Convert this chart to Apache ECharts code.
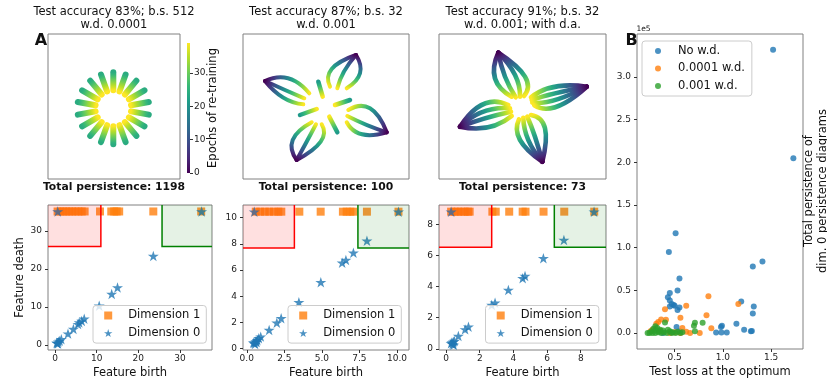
<!DOCTYPE html>
<html><head><meta charset="utf-8">
<script src="https://cdn.jsdelivr.net/npm/echarts@6/dist/echarts.min.js"></script>
<style>html,body{margin:0;padding:0;background:#fff}#c{width:827px;height:383px}</style>
</head><body><div id="c"></div>
<script>
// ---------------- DATA ----------------
const EMAX = 39; // epochs of re-training (colorbar max)
const cbTicks = [0, 10, 20, 30];

// Panel A1 top: radial rays [x_inner, y_inner, x_outer, y_outer, epoch_inner, epoch_outer]
const a1Rays = [
  [-0.7,16.2,-0.7,34.2,39,24],[5.5,15.1,11.6,32.0,39,24],[10.9,12.0,22.4,25.8,39,24],
  [14.9,7.2,30.5,16.2,39,24],[17.0,1.3,34.8,4.5,39,24],[17.0,-4.9,34.8,-8.1,39,24],
  [14.9,-10.8,30.5,-19.8,39,24],[10.9,-15.6,22.4,-29.4,39,24],[5.5,-18.7,11.6,-35.6,39,24],
  [-0.7,-19.8,-0.7,-37.8,39,24],[-6.9,-18.7,-13.0,-35.6,39,24],[-12.3,-15.6,-23.8,-29.4,39,24],
  [-16.3,-10.8,-31.9,-19.8,39,24],[-18.4,-4.9,-36.2,-8.1,39,24],[-18.4,1.3,-36.2,4.5,39,24],
  [-16.3,7.2,-31.9,16.2,39,24],[-12.3,12.0,-23.8,25.8,39,24],[-6.9,15.1,-13.0,32.0,39,24]
];
// Panel A2 top: curves [x_in, y_in, x_mid, y_mid, x_tip, y_tip, epoch_in, epoch_tip]
const a2Arcs = [
  [4,19.8,5.7,37.5,30,51.5,39,0],[11.3,18.2,18,35,30,51.5,39,0],[20.7,18.2,34,33.2,30,51.5,39,0],
  [-16.7,13.2,-37.7,28.2,-61,25.5,39,0],[-21.7,8.2,-41,16.5,-61,25.5,39,0],[-22.7,2.2,-42.7,8.8,-61,25.5,39,0],
  [-14.3,-15.8,-33.3,-33.5,-29.3,-53.5,39,0],[-10,-17.8,-19.3,-35.2,-29.3,-53.5,39,0],[-4.3,-17.8,-5.3,-35.2,-29.3,-53.5,39,0],
  [22.3,-3.5,44,-1.8,60.7,-25.8,39,0],[21.3,-9.5,40.7,-18.5,60.7,-25.8,39,0],[20.7,-15.8,35.7,-27.8,60.7,-25.8,39,0]
];
const a2Dashes = [
  [-3.3,9.8,-7.7,24.8,39,21],[9,1.5,24,6.5,39,21],[-9.3,-2.5,-26,-8.5,39,21],[3.3,-10.2,11.3,-25.8,39,21]
];
// Panel A3 top
const a3Arcs = [
  [-10.8,9.8,-27.5,28.2,-24.2,53.8,39,0],[-6.8,9.2,-17.5,29.8,-24.2,53.8,39,0],
  [-2.5,9.8,-7.5,31.5,-24.2,53.8,39,0],[1.5,10.5,2.5,29.8,-24.2,53.8,39,0],
  [8.5,9.2,32.5,19.8,64.2,19.8,39,0],[9.2,6.5,32.5,13.2,64.2,19.8,39,0],
  [9.8,3.8,32.5,6.5,64.2,19.8,39,0],[11.8,1.2,34.2,-0.2,64.2,19.8,39,0],
  [-14.2,1.5,-39.2,2.5,-62.5,-20.2,39,0],[-12.5,-1.8,-39.2,-5.2,-62.5,-20.2,39,0],
  [-11.5,-5.2,-37.5,-11.8,-62.5,-20.2,39,0],[-10.8,-9.5,-34.2,-20.8,-62.5,-20.2,39,0],
  [-3.5,-12.8,-2.5,-33.5,19.8,-55.2,39,0],[0.8,-11.2,5.8,-33.5,19.8,-55.2,39,0],
  [4.8,-10.2,12.5,-30.2,19.8,-55.2,39,0],[8.5,-8.5,22.5,-21.8,19.8,-55.2,39,0]
];

// Persistence diagrams [birth, death]
const a1Dim1 = [[0.6,35.1],[1.3,35.1],[2.0,35.1],[2.7,35.1],[3.4,35.1],[4.1,35.1],[4.9,35.1],[5.6,35.1],[6.4,35.1],[7.1,35.1],[10.8,35.1],[13.5,35.1],[14.2,35.1],[14.8,35.1],[15.4,35.1],[23.6,35.1],[35.1,35.1]];
const a1Dim0 = [[0.64,35.1],[35.2,35.1],[23.6,23.4],[15.0,15.1],[13.6,13.4],[10.6,10.3],[7.0,6.9],[6.4,6.3],[5.8,5.9],[5.5,5.5],[4.4,4.2],[3.1,3.0],[1.5,1.5],[1.1,1.1],[0.8,0.9],[0.5,0.5],[0.4,0.6],[0.7,0.4]];
const a2Dim1 = [[0.6,10.46],[0.9,10.46],[1.2,10.46],[1.5,10.46],[1.8,10.46],[2.1,10.46],[2.3,10.46],[3.5,10.46],[4.92,10.46],[6.4,10.46],[6.65,10.46],[6.9,10.46],[7.1,10.46],[8.0,10.46],[10.1,10.46]];
const a2Dim0 = [[0.5,10.46],[10.1,10.46],[8.0,8.24],[7.1,7.33],[6.6,6.77],[6.35,6.56],[4.93,5.07],[3.47,3.54],[2.29,2.32],[2.0,1.98],[1.49,1.43],[0.93,0.92],[0.8,0.8],[0.7,0.65],[0.6,0.55],[0.5,0.45],[0.44,0.46],[0.55,0.35],[0.65,0.5]];
const a3Dim1 = [[0.3,8.84],[0.5,8.84],[0.7,8.84],[0.9,8.84],[1.1,8.84],[1.3,8.84],[1.4,8.84],[2.75,8.84],[2.95,8.84],[3.75,8.84],[4.55,8.84],[4.72,8.84],[5.79,8.84],[7.02,8.84],[8.8,8.84]];
const a3Dim0 = [[0.3,8.84],[8.79,8.84],[7.0,7.01],[5.78,5.83],[4.69,4.69],[4.55,4.54],[3.7,3.79],[2.91,2.97],[2.71,2.82],[1.33,1.42],[1.13,1.25],[0.73,0.82],[0.43,0.45],[0.3,0.35],[0.4,0.3],[0.5,0.5],[0.35,0.4],[0.45,0.25]];

// Threshold boxes: [red x max, green x min, y min]
const a1Box = [11.0, 25.7, 25.9];
const a2Box = [3.17, 7.4, 7.68];
const a3Box = [2.71, 6.43, 6.54];

// Panel B: [test loss, total persistence (x1e5)]
const bNoWd = [[1.52,3.32],[1.73,2.05],[0.51,1.17],[0.44,0.95],[1.41,0.84],[1.31,0.78],[0.55,0.64],[0.53,0.50],[0.45,0.47],[0.43,0.42],[0.45,0.38],[0.47,0.34],[0.50,0.32],[0.45,0.31],[0.55,0.30],[0.53,0.27],[0.49,0.33],[1.19,0.37],[1.32,0.31],[1.31,0.23],[1.14,0.11],[0.99,0.085],[0.98,0.07],[1.22,0.04],[1.30,0.025],[1.29,0.02],[0.93,0.005],[0.985,0.005],[1.04,0.005],[0.52,0.07],[0.55,0.02],[0.38,0.0],[0.46,0.01]];
const bWd4 = [[0.85,0.43],[1.16,0.34],[0.62,0.32],[0.40,0.28],[0.83,0.21],[0.56,0.18],[0.36,0.16],[0.41,0.155],[0.33,0.13],[0.31,0.11],[0.58,0.06],[0.88,0.055],[0.62,0.015],[0.76,0.0],[0.25,0.02],[0.27,0.04],[0.5,0.01],[0.45,0.0],[0.35,0.03],[0.66,0.0],[0.56,0.0]];
const bWd3 = [[0.40,0.125],[0.71,0.12],[0.79,0.12],[0.70,0.085],[0.71,0.02],[0.30,0.08],[0.32,0.06],[0.28,0.05],[0.35,0.04],[0.26,0.02],[0.22,0.0],[0.24,0.0],[0.27,0.0],[0.30,0.0],[0.33,0.01],[0.36,0.0],[0.39,0.005],[0.42,0.0],[0.45,0.02],[0.48,0.01],[0.51,0.0],[0.53,0.015],[0.56,0.0],[0.58,0.01],[0.30,0.03],[0.34,0.02],[0.38,0.03],[0.43,0.04],[0.47,0.0]];

// Tick values
const a1Ticks = [0,10,20,30];
const a2xTicks = [0,2.5,5,7.5,10];
const a2yTicks = [0,2,4,6,8,10];
const a3Ticks = [0,2,4,6,8];
const bxTicks = [0.5,1.0,1.5];
const byTicks = [0,0.5,1.0,1.5,2.0,2.5,3.0];

// ---------------- RENDER ----------------
const FONT = 'DejaVu Sans';
const STAR = 'path://M50,0L61.2,34.6L97.6,34.6L68.1,55.9L79.4,90.5L50,69.1L20.6,90.5L31.9,55.9L2.4,34.6L38.8,34.6Z';
const SQUARE = 'path://M0,0L10,0L10,10L0,10Z';
const VIR = ['#440154','#482878','#3e4989','#31688e','#26828e','#1f9e89','#35b779','#6ece58','#b5de2b','#fde725'];
function hex(h){return [parseInt(h.slice(1,3),16),parseInt(h.slice(3,5),16),parseInt(h.slice(5,7),16)];}
function viridis(t){
  t=Math.max(0,Math.min(1,t)); const s=t*(VIR.length-1); const i=Math.min(Math.floor(s),VIR.length-2); const f=s-i;
  const a=hex(VIR[i]), b=hex(VIR[i+1]);
  return 'rgb('+a.map((v,k)=>Math.round(v+(b[k]-v)*f)).join(',')+')';
}
function grad(p0,p1,e0,e1){
  const stops=[]; for(let i=0;i<=10;i++){const t=i/10; stops.push({offset:t,color:viridis((e0+(e1-e0)*t)/EMAX)});}
  return new echarts.graphic.LinearGradient(p0[0],p0[1],p1[0],p1[1],stops,true);
}
function rayRender(w){return function(params,api){
  const p0=api.coord([api.value(0),api.value(1)]), p1=api.coord([api.value(2),api.value(3)]);
  return {type:'line',shape:{x1:p0[0],y1:p0[1],x2:p1[0],y2:p1[1]},style:{fill:'none',stroke:grad(p0,p1,api.value(4),api.value(5)),lineWidth:w,lineCap:'round'}};
};}
function arcRender(w){return function(params,api){
  const p0=api.coord([api.value(0),api.value(1)]), pm=api.coord([api.value(2),api.value(3)]), p1=api.coord([api.value(4),api.value(5)]);
  const cx=2*pm[0]-(p0[0]+p1[0])/2, cy=2*pm[1]-(p0[1]+p1[1])/2;
  return {type:'bezierCurve',shape:{x1:p0[0],y1:p0[1],cpx1:cx,cpy1:cy,x2:p1[0],y2:p1[1]},style:{fill:'none',stroke:grad(p0,p1,api.value(6),api.value(7)),lineWidth:w,lineCap:'round'}};
};}
function rectRender(params,api){
  const kind=api.value(4);
  const p0=api.coord([api.value(0),api.value(1)]), p1=api.coord([api.value(2),api.value(3)]);
  const x=Math.min(p0[0],p1[0]), y=Math.min(p0[1],p1[1]), w=Math.abs(p1[0]-p0[0]), h=Math.abs(p1[1]-p0[1]);
  const pts = kind===0 ? [[p1[0],p1[1]],[p1[0],p0[1]],[p0[0],p0[1]]] : [[p0[0],p1[1]],[p0[0],p0[1]],[p1[0],p0[1]]];
  return {type:'group',children:[
    {type:'rect',shape:{x,y,width:w,height:h},style:{fill:kind===0?'rgba(255,0,0,0.12)':'rgba(0,128,0,0.1)',stroke:'none'}},
    {type:'polyline',shape:{points:pts},style:{fill:'none',stroke:kind===0?'#ff0000':'#008000',lineWidth:1.5}}
  ]};
}

const gridBase = {show:true, borderColor:'#808080', borderWidth:1, backgroundColor:'transparent', containLabel:false, outerBoundsMode:'none'};
const grids = [
  {left:48, top:34, width:132, height:145},   // 0 A1 top
  {left:243, top:34, width:166, height:145},  // 1 A2 top
  {left:439, top:34, width:167, height:145},  // 2 A3 top
  {left:187, top:43, width:3, height:130, show:false, outerBoundsMode:'none'}, // 3 colorbar
  {left:48, top:205, width:164, height:145},  // 4 A1 bottom
  {left:243, top:205, width:166, height:145}, // 5 A2 bottom
  {left:439, top:205, width:167, height:145}, // 6 A3 bottom
  {left:637, top:34, width:166, height:315}   // 7 B
].map((g,i)=> i===3 ? g : Object.assign({}, gridBase, g));

const intF = v=>String(v), f1 = v=>v.toFixed(1);
function vAxis(gi,min,max,ticks,fmt,margin,extra){
  return Object.assign({
    type:'value', gridIndex:gi, min, max,
    axisLine:{show:false, onZero:false}, splitLine:{show:false},
    axisTick:{show:true, customValues:ticks, length:3, lineStyle:{color:'#333', width:1}},
    axisLabel:{show:true, customValues:ticks, formatter:fmt, fontSize:9, color:'#222', fontFamily:FONT, margin},
    nameTextStyle:{fontSize:11.5, color:'#111', fontFamily:FONT},
    nameMoveOverlap:false
  }, extra||{});
}
function hidden(gi,min,max){return {type:'value',gridIndex:gi,min,max,show:false,axisLine:{onZero:false}};}

const xAxes = [
  hidden(0,-66,66), hidden(1,-83,83), hidden(2,-83.5,83.5),
  {type:'category', gridIndex:3, data:['c'], show:false},
  vAxis(4,-1.7,37.7,a1Ticks,intF,4,{name:'Feature birth',nameLocation:'middle',nameGap:17}),
  vAxis(5,-0.25,10.8,a2xTicks,f1,4,{name:'Feature birth',nameLocation:'middle',nameGap:17}),
  vAxis(6,-0.42,9.5,a3Ticks,intF,4,{name:'Feature birth',nameLocation:'middle',nameGap:17}),
  vAxis(7,0.11,1.83,bxTicks,f1,4,{name:'Test loss at the optimum',nameLocation:'middle',nameGap:17})
];
const yAxes = [
  hidden(0,-72.5,72.5), hidden(1,-72.5,72.5), hidden(2,-72.5,72.5),
  vAxis(3,0,EMAX,cbTicks,intF,4,{position:'right',name:'Epochs of re-training',nameLocation:'middle',nameRotate:90,nameGap:17}),
  vAxis(4,-1.3,36.8,a1Ticks,intF,6,{name:'Feature death',nameLocation:'middle',nameRotate:90,nameGap:22}),
  vAxis(5,-0.1,10.97,a2yTicks,intF,6),
  vAxis(6,-0.08,9.27,a3Ticks,intF,6),
  vAxis(7,-0.187,3.505,byTicks,f1,6)
];

function boxes(b, xmin, xmax, ymax){return [[xmin,b[2],b[0],ymax,0],[b[1],b[2],xmax,ymax,1]];}
function pdSeries(gi, d1, d0, box, xmin, xmax, ymax){
  return [
    {type:'scatter',name:'Dimension 1',xAxisIndex:gi,yAxisIndex:gi,data:d1,symbol:SQUARE,symbolSize:8,symbolKeepAspect:true,itemStyle:{color:'#ff7f0e'},z:2},
    {type:'scatter',name:'Dimension 0',xAxisIndex:gi,yAxisIndex:gi,data:d0,symbol:STAR,symbolSize:11,symbolKeepAspect:true,itemStyle:{color:'#1f77b4'},z:2},
    {type:'custom',xAxisIndex:gi,yAxisIndex:gi,data:boxes(box,xmin,xmax,ymax),renderItem:rectRender,z:3,silent:true}
  ];
}

const series = [
  {type:'custom',xAxisIndex:0,yAxisIndex:0,data:a1Rays,renderItem:rayRender(6),silent:true},
  {type:'custom',xAxisIndex:1,yAxisIndex:1,data:a2Arcs,renderItem:arcRender(4),silent:true},
  {type:'custom',xAxisIndex:1,yAxisIndex:1,data:a2Dashes,renderItem:rayRender(4.5),silent:true},
  {type:'custom',xAxisIndex:2,yAxisIndex:2,data:a3Arcs,renderItem:arcRender(4.6),silent:true},
  {type:'bar',xAxisIndex:3,yAxisIndex:3,data:[EMAX],barWidth:'100%',silent:true,
    itemStyle:{color:new echarts.graphic.LinearGradient(0,1,0,0,VIR.map((c,i)=>({offset:i/(VIR.length-1),color:c})))}},
  ...pdSeries(4,a1Dim1,a1Dim0,a1Box,-1.7,37.7,36.8),
  ...pdSeries(5,a2Dim1,a2Dim0,a2Box,-0.25,10.8,10.97),
  ...pdSeries(6,a3Dim1,a3Dim0,a3Box,-0.42,9.5,9.27),
  {type:'scatter',name:'No w.d.',xAxisIndex:7,yAxisIndex:7,data:bNoWd,symbol:'circle',symbolSize:6,itemStyle:{color:'#1f77b4'}},
  {type:'scatter',name:'0.0001 w.d.',xAxisIndex:7,yAxisIndex:7,data:bWd4,symbol:'circle',symbolSize:6,itemStyle:{color:'#ff7f0e'}},
  {type:'scatter',name:'0.001 w.d.',xAxisIndex:7,yAxisIndex:7,data:bWd3,symbol:'circle',symbolSize:6,itemStyle:{color:'#2ca02c'}}
];

const legBase = {orient:'vertical', selectedMode:false, backgroundColor:'rgba(255,255,255,0.8)', borderColor:'#cccccc', borderWidth:1, borderRadius:3,
  itemWidth:26, itemGap:3.6, textStyle:{fontFamily:FONT, fontSize:11.5, color:'#111', lineHeight:14, padding:[0,0,0,2]}, z:10};
const dimNames = ['Dimension 1','Dimension 0'];
const legends = [
  Object.assign({}, legBase, {left:93, top:305.5, padding:[3,6,3,11], itemHeight:8, data:dimNames}),
  Object.assign({}, legBase, {left:288, top:305.5, padding:[3,6,3,11], itemHeight:8, data:dimNames}),
  Object.assign({}, legBase, {left:485.5, top:305.5, padding:[3,6,3,11], itemHeight:8, data:dimNames}),
  Object.assign({}, legBase, {left:642, top:41, padding:[3,7,3,13], itemHeight:6, itemGap:3.5, data:['No w.d.','0.0001 w.d.','0.001 w.d.']})
];

function txt(x,y,text,size,weight,extra){
  return Object.assign({type:'text',x,y,z:20,style:{text,fontSize:size,fontFamily:FONT,fontWeight:weight||'normal',fill:'#111',align:'center',verticalAlign:'middle',lineHeight:14}},extra||{});
}
const graphics = [
  txt(114,12.5,'Test accuracy 83%; b.s. 512',11.5), txt(114,25.5,'w.d. 0.0001',11.5),
  txt(326,12.5,'Test accuracy 87%; b.s. 32',11.5), txt(326,25.5,'w.d. 0.001',11.5),
  txt(522.5,12.5,'Test accuracy 91%; b.s. 32',11.5), txt(522.5,25.5,'w.d. 0.001; with d.a.',11.5),
  txt(114,187.5,'Total persistence: 1198',10.8,'bold'),
  txt(326,187.5,'Total persistence: 100',10.8,'bold'),
  txt(522.5,187.5,'Total persistence: 73',10.8,'bold'),
  txt(41,41,'A',16,'bold'), txt(631.5,41,'B',16,'bold'),
  txt(643.5,29.5,'1e5',7.5),
  txt(816,191,'Total persistence of\ndim. 0 persistence diagrams',11.5,'normal',{rotation:Math.PI/2})
];

const chart = echarts.init(document.getElementById('c'), null, {renderer:'canvas'});
chart.setOption({
  animation:false, backgroundColor:'#ffffff',
  textStyle:{fontFamily:FONT},
  grid:grids, xAxis:xAxes, yAxis:yAxes, series, legend:legends, graphic:graphics
});
</script></body></html>
